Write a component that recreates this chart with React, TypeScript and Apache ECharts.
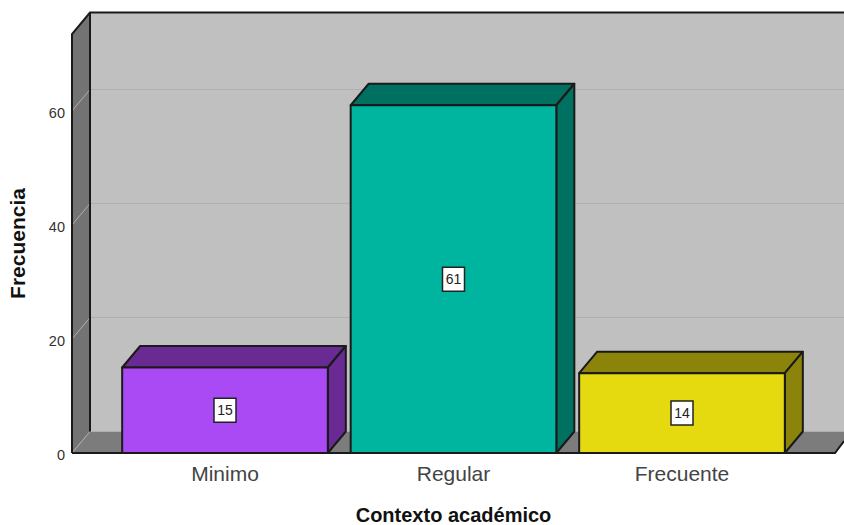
import React, { useEffect, useRef } from "react";
import * as echarts from "echarts";

const categories = ["Minimo", "Regular", "Frecuente"];
const frequencies = [15, 61, 14];
const barColors = ["#a94af5", "#00b5a0", "#e5d90f"];
const barShades = ["#6a2a93", "#007060", "#8c830a"];
const gridValues = [0, 20, 40, 60];

const DX = 18;
const DY = -21.5;
const Y_MAX = 73.5;
const OUTLINE = "#1a1a1a";

function poly(points: number[][], fill: string, stroke: any = OUTLINE, lineWidth = 2) {
  return {
    type: "polygon",
    shape: { points },
    style: { fill, stroke: stroke ?? undefined, lineWidth, lineJoin: "round" },
    silent: true,
  };
}

function line(points: number[][], stroke: string, lineWidth = 2) {
  return {
    type: "polyline",
    shape: { points },
    style: { fill: "none", stroke, lineWidth },
    silent: true,
  };
}

function wallBounds(params: any, api: any) {
  const cs = params.coordSys;
  const left = cs.x - 38.75;
  const bottom = api.coord([0, 0])[1];
  const top = api.coord([0, Y_MAX])[1];
  return { left, bottom, top, right: 844 };
}

function renderWalls(params: any, api: any) {
  const { left, bottom, top, right } = wallBounds(params, api);
  return {
    type: "group",
    children: [
      poly([[left + DX, top + DY], [right, top + DY], [right, bottom + DY], [left + DX, bottom + DY]], "#c0c0c0", null, 0),
      poly([[left, top], [left + DX, top + DY], [left + DX, bottom + DY], [left, bottom]], "#737373", null, 0),
      poly([[left, bottom], [left + DX, bottom + DY], [right, bottom + DY], [right, bottom - 12], [right - 9, bottom]], "#7c7c7c", null, 0),
    ],
  };
}

function renderGridLine(params: any, api: any) {
  const { left, right } = wallBounds(params, api);
  const y = api.coord([0, api.value(0)])[1];
  return line([[left, y], [left + DX, y + DY], [right, y + DY]], "#afafaf", 1);
}

function renderFrame(params: any, api: any) {
  const { left, bottom, top, right } = wallBounds(params, api);
  return {
    type: "group",
    children: [
      line([[left, bottom], [left, top], [left + DX, top + DY], [right, top + DY]], OUTLINE),
      line([[left + DX, top + DY], [left + DX, bottom + DY]], OUTLINE),
      line([[left, bottom], [right - 9, bottom], [right, bottom - 12]], OUTLINE),
    ],
  };
}

function renderBar(params: any, api: any) {
  const i = params.dataIndex;
  const [cx, yTop] = api.coord([api.value(0), api.value(1)]);
  const yBase = api.coord([api.value(0), 0])[1];
  const w = api.size([1, 0])[0] * 0.9;
  const x0 = cx - w / 2;
  const x1 = cx + w / 2;
  const midY = (yTop + yBase) / 2;
  return {
    type: "group",
    children: [
      poly([[x0, yTop], [x0 + DX, yTop + DY], [x1 + DX, yTop + DY], [x1, yTop]], barShades[i]),
      poly([[x1, yTop], [x1 + DX, yTop + DY], [x1 + DX, yBase + DY], [x1, yBase]], barShades[i]),
      poly([[x0, yTop], [x1, yTop], [x1, yBase], [x0, yBase]], barColors[i]),
      {
        type: "rect",
        shape: { x: cx - 11, y: midY - 12, width: 22, height: 24 },
        style: { fill: "#ffffff", stroke: "#222222", lineWidth: 1.5 },
        silent: true,
      },
      {
        type: "text",
        style: {
          x: cx,
          y: midY,
          text: String(api.value(1)),
          fill: "#222222",
          font: '14px "Liberation Sans"',
          align: "center",
          verticalAlign: "middle",
        },
        silent: true,
      },
    ],
  };
}

export default function App() {
  const ref = useRef<HTMLDivElement>(null);
  useEffect(() => {
    const chart = echarts.init(ref.current!, null, { renderer: "svg" });
    chart.setOption({
      animation: false,
      backgroundColor: "#ffffff",
      grid: { left: 110.75, top: 34, width: 685.5, height: 419, outerBoundsMode: "none" },
      xAxis: {
        type: "category",
        data: categories,
        name: "Contexto académico",
        nameLocation: "middle",
        nameGap: 52,
        nameTextStyle: { fontFamily: "Liberation Sans", fontWeight: "bold", fontSize: 20, lineHeight: 20, color: "#111111" },
        axisLine: { show: false },
        axisTick: { show: false },
        axisLabel: { fontFamily: "Liberation Sans", fontSize: 21, color: "#444444", margin: 10 },
      },
      yAxis: {
        type: "value",
        min: 0,
        max: Y_MAX,
        interval: 20,
        offset: 38.75,
        name: "Frecuencia",
        nameLocation: "middle",
        nameGap: 44,
        nameTextStyle: { fontFamily: "Liberation Sans", fontWeight: "bold", fontSize: 21, color: "#111111" },
        axisLine: { show: false },
        axisTick: { show: false },
        splitLine: { show: false },
        axisLabel: {
          fontFamily: "Liberation Sans",
          fontSize: 14.5,
          color: "#333333",
          margin: 7,
          showMaxLabel: false,
          verticalAlign: "top",
          lineHeight: 4,
        },
      },
      series: [
        { type: "custom", z: 1, renderItem: renderWalls, data: [[0]], encode: { y: 0 } },
        { type: "custom", z: 2, renderItem: renderGridLine, data: gridValues.map((v) => [v]), encode: { y: 0 } },
        { type: "custom", z: 3, renderItem: renderFrame, data: [[0]], encode: { y: 0 } },
        {
          type: "custom",
          z: 4,
          renderItem: renderBar,
          data: categories.map((_, i) => [i, frequencies[i]]),
          encode: { x: 0, y: 1 },
        },
      ],
    });
    return () => chart.dispose();
  }, []);
  return <div ref={ref} style={{ position: "fixed", left: 0, top: 0, width: 844, height: 525 }} />;
}
